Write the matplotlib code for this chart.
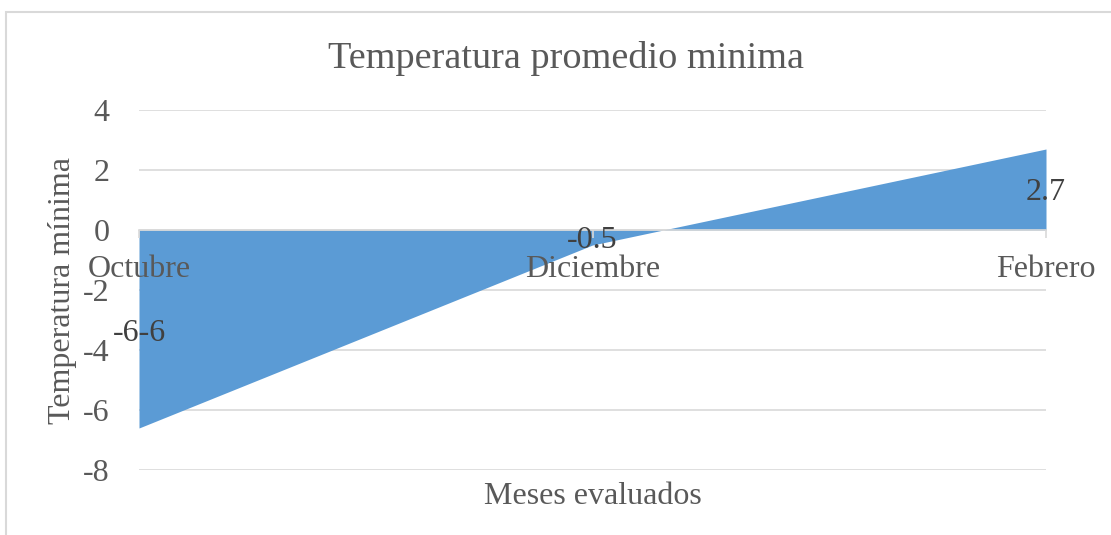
import matplotlib

matplotlib.use("Agg")
import matplotlib.pyplot as plt
from matplotlib.patches import Rectangle

months = ["Octubre", "Diciembre", "Febrero"]
temp_min = [-6.6, -0.5, 2.7]
label_texts = ["-6-6", "-0.5", "2.7"]
label_y = [-3.45, -0.35, 1.25]
y_ticks = [-8, -6, -4, -2, 0, 2, 4]

plt.rcParams["font.family"] = ["Liberation Serif", "DejaVu Serif"]

text_color = "#595959"
grid_color = "#d9d9d9"
fill_color = "#5b9bd5"

fig = plt.figure(figsize=(11.11, 5.35), dpi=100)
ax = fig.add_axes([139 / 1111, 1 - 470 / 535, (1046 - 139) / 1111, (470 - 110) / 535])

x = list(range(len(months)))
ax.fill_between(x, temp_min, 0, color=fill_color, linewidth=0, zorder=2)

ax.set_xlim(0, len(months) - 1)
ax.set_ylim(-8, 4)
ax.set_yticks(y_ticks)
ax.set_yticklabels([str(t) for t in y_ticks])
ax.grid(axis="y", color=grid_color, linewidth=1.2)
ax.yaxis.set_zorder(0.5)
ax.xaxis.set_zorder(5)

for side in ["top", "right", "left"]:
    ax.spines[side].set_visible(False)
ax.spines["bottom"].set_position(("data", 0))
ax.spines["bottom"].set_color(grid_color)
ax.spines["bottom"].set_linewidth(1.2)
ax.spines["bottom"].set_zorder(3)

ax.set_xticks(x)
ax.set_xticklabels(months)
ax.tick_params(axis="x", colors=grid_color, length=6, width=1.2, pad=12, labelsize=23, labelcolor=text_color)
ax.tick_params(axis="y", length=0, pad=21, labelsize=23, labelcolor=text_color)

for xi, ly, txt in zip(x, label_y, label_texts):
    ax.text(xi, ly, txt, ha="center", va="center", fontsize=23, color="#404040", zorder=6)

# title sits centred on the whole chart frame, not on the plot area
ax.set_title("Temperatura promedio minima", fontsize=27.5, color=text_color, pad=30,
             x=(566.5 - 139) / 907)
ax.set_xlabel("Meses evaluados", fontsize=23, color=text_color)
ax.xaxis.set_label_coords(0.5, -0.033)
ax.set_ylabel("Temperatura mínima", fontsize=23, color=text_color)
ax.yaxis.set_label_coords(-0.068, 0.5)

fig.patches.append(Rectangle((6 / 1111, -0.01), 1.1, 1 - 12 / 535 + 0.01, transform=fig.transFigure,
                             fill=False, edgecolor=grid_color, linewidth=1.5))

fig.savefig("out.png", dpi=100)
